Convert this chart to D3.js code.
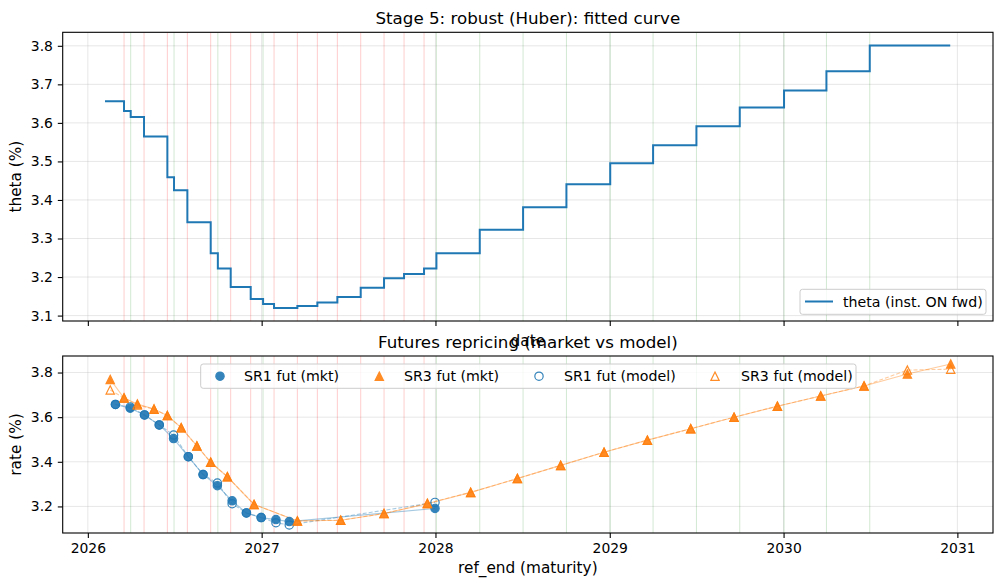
<!DOCTYPE html>
<html>
<head>
<meta charset="utf-8">
<script src="https://cdn.jsdelivr.net/npm/d3@7"></script>
<style>
  body { margin: 0; background: #fff; }
  text { font-family: "DejaVu Sans", sans-serif; fill: #000; }
</style>
</head>
<body>
<div id="chart"></div>
<script>
// ---- data ----
var thetaDates = ["2026-02-06", "2026-03-18", "2026-04-01", "2026-04-29", "2026-06-17", "2026-07-01",
  "2026-07-29", "2026-09-16", "2026-10-01", "2026-10-28", "2026-12-09", "2027-01-04", "2027-01-27",
  "2027-03-17", "2027-04-28", "2027-06-09", "2027-07-28", "2027-09-15", "2027-10-27", "2027-12-08",
  "2028-01-03", "2028-04-03", "2028-07-03", "2028-10-02", "2029-01-02", "2029-04-02", "2029-07-02",
  "2029-10-01", "2030-01-02", "2030-04-01", "2030-07-01", "2030-12-17"];
var thetaValues = [3.656, 3.631, 3.615, 3.565, 3.459, 3.425, 3.342, 3.262, 3.222, 3.174, 3.143, 3.130,
  3.120, 3.125, 3.134, 3.148, 3.172, 3.197, 3.208, 3.222, 3.262, 3.323, 3.381, 3.441, 3.495, 3.542,
  3.591, 3.640, 3.684, 3.734, 3.801, 3.801];

// meeting dates (red) and quarter starts (green)
var meetingDates = ["2026-03-18", "2026-04-29", "2026-06-17", "2026-07-29", "2026-09-16", "2026-10-28",
  "2026-12-09", "2027-01-27", "2027-03-17", "2027-04-28", "2027-06-09", "2027-07-28", "2027-09-15",
  "2027-10-27", "2027-12-08"];
var quarterDates = ["2026-04-01", "2026-07-01", "2026-10-01", "2027-01-04", "2028-01-03", "2028-04-03",
  "2028-07-03", "2028-10-02", "2029-01-02", "2029-04-02", "2029-07-02", "2029-10-01", "2030-01-02",
  "2030-04-01", "2030-07-01"];

var sr1Dates = ["2026-02-28", "2026-03-31", "2026-04-30", "2026-05-31", "2026-06-30", "2026-07-31",
  "2026-08-31", "2026-09-30", "2026-10-31", "2026-11-30", "2026-12-31", "2027-01-31", "2027-02-28",
  "2027-12-31"];
var sr1Mkt = [3.657, 3.640, 3.610, 3.565, 3.504, 3.423, 3.343, 3.293, 3.225, 3.171, 3.150, 3.141, 3.132, 3.191];
var sr1Model = [3.657, 3.645, 3.610, 3.565, 3.520, 3.423, 3.343, 3.305, 3.212, 3.171, 3.150, 3.127, 3.117, 3.218];

var sr3Dates = ["2026-02-17", "2026-03-18", "2026-04-15", "2026-05-20", "2026-06-17", "2026-07-16",
  "2026-08-18", "2026-09-16", "2026-10-21", "2026-12-16", "2027-03-17", "2027-06-16", "2027-09-15",
  "2027-12-15", "2028-03-15", "2028-06-21", "2028-09-20", "2028-12-20", "2029-03-21", "2029-06-20",
  "2029-09-19", "2029-12-19", "2030-03-20", "2030-06-19", "2030-09-18", "2030-12-18"];
var sr3Mkt = [3.769, 3.686, 3.659, 3.636, 3.607, 3.553, 3.471, 3.398, 3.333, 3.209, 3.135, 3.138, 3.168,
  3.212, 3.263, 3.325, 3.384, 3.443, 3.497, 3.548, 3.600, 3.649, 3.695, 3.740, 3.793, 3.838];
var sr3Model = [3.722, 3.686, 3.655, 3.636, 3.607, 3.553, 3.471, 3.398, 3.333, 3.209, 3.135, 3.138, 3.168,
  3.214, 3.263, 3.325, 3.384, 3.443, 3.497, 3.548, 3.600, 3.649, 3.695, 3.740, 3.811, 3.815];

var xTickLabels = ["2026", "2027", "2028", "2029", "2030", "2031"];
var yTicksTop = [3.1, 3.2, 3.3, 3.4, 3.5, 3.6, 3.7, 3.8];
var yTicksBottom = [3.2, 3.4, 3.6, 3.8];

// ---- setup ----
var W = 1002, H = 588;
var parse = d3.utcParse("%Y-%m-%d");
var blue = "#1f77b4", orange = "#ff7f0e";
var fs = 13.9, lfs = 15.3, tick = 4.9;

var svg = d3.select("#chart").append("svg")
  .attr("width", W).attr("height", H);

var left = 62.7, right = 993;
var topBox = {t: 32.3, b: 321};
var botBox = {t: 356, b: 533};

function pad(ext) {
  var r = ext[1] - ext[0];
  return [ext[0] - 0.05 * r, ext[1] + 0.05 * r];
}

var allDates = thetaDates.concat(sr1Dates, sr3Dates).map(parse);
var xe = d3.extent(allDates).map(Number);
var x = d3.scaleUtc().domain(pad(xe).map(function(v) { return new Date(v); })).range([left, right]);

var y1 = d3.scaleLinear().domain(pad(d3.extent(thetaValues))).range([topBox.b, topBox.t]);
var y2 = d3.scaleLinear()
  .domain(pad(d3.extent(sr1Mkt.concat(sr1Model, sr3Mkt, sr3Model))))
  .range([botBox.b, botBox.t]);

var xTicks = xTickLabels.map(function(s) { return parse(s + "-01-01"); });

svg.append("defs").selectAll("clipPath")
  .data([["c1", topBox], ["c2", botBox]])
  .enter().append("clipPath").attr("id", function(d) { return d[0]; })
  .append("rect")
  .attr("x", left).attr("y", function(d) { return d[1].t; })
  .attr("width", right - left).attr("height", function(d) { return d[1].b - d[1].t; });

function panel(box, y, yTicks, clip, showXLabels) {
  var g = svg.append("g");
  var inner = g.append("g").attr("clip-path", "url(#" + clip + ")");

  // grid
  inner.selectAll(".gy").data(yTicks).enter().append("line")
    .attr("x1", left).attr("x2", right)
    .attr("y1", function(d) { return y(d); }).attr("y2", function(d) { return y(d); })
    .attr("stroke", "#b0b0b0").attr("stroke-opacity", 0.3).attr("stroke-width", 1);
  inner.selectAll(".gx").data(xTicks).enter().append("line")
    .attr("x1", function(d) { return x(d); }).attr("x2", function(d) { return x(d); })
    .attr("y1", box.t).attr("y2", box.b)
    .attr("stroke", "#b0b0b0").attr("stroke-opacity", 0.3).attr("stroke-width", 1);

  // vertical markers
  inner.selectAll(".vr").data(meetingDates.map(parse)).enter().append("line")
    .attr("x1", function(d) { return x(d); }).attr("x2", function(d) { return x(d); })
    .attr("y1", box.t).attr("y2", box.b)
    .attr("stroke", "red").attr("stroke-opacity", 0.2).attr("stroke-width", 1);
  inner.selectAll(".vg").data(quarterDates.map(parse)).enter().append("line")
    .attr("x1", function(d) { return x(d); }).attr("x2", function(d) { return x(d); })
    .attr("y1", box.t).attr("y2", box.b)
    .attr("stroke", "green").attr("stroke-opacity", 0.18).attr("stroke-width", 1);

  // axes
  var ax = g.append("g").attr("transform", "translate(0," + box.b + ")")
    .call(d3.axisBottom(x).tickValues(xTicks).tickSize(tick).tickPadding(tick)
      .tickFormat(function(d, i) { return showXLabels ? xTickLabels[i] : ""; }));
  var ay = g.append("g").attr("transform", "translate(" + left + ",0)")
    .call(d3.axisLeft(y).tickValues(yTicks).tickSize(tick).tickPadding(tick)
      .tickFormat(d3.format(".1f")));
  [ax, ay].forEach(function(a) {
    a.select(".domain").remove();
    a.selectAll("line").attr("stroke", "#000").attr("stroke-width", 1.1);
    a.selectAll("text").attr("font-size", fs).attr("font-family", "DejaVu Sans").attr("fill", "#000");
  });

  g.append("rect").attr("class", "frame")
    .attr("x", left).attr("y", box.t).attr("width", right - left).attr("height", box.b - box.t)
    .attr("fill", "none").attr("stroke", "#000").attr("stroke-width", 1.1);
  return {g: g, inner: inner};
}

// ---- top panel: fitted theta ----
var p1 = panel(topBox, y1, yTicksTop, "c1", false);
var thetaPts = thetaDates.map(function(d, i) { return [parse(d), thetaValues[i]]; });
p1.inner.append("path")
  .datum(thetaPts)
  .attr("fill", "none").attr("stroke", blue).attr("stroke-width", 2)
  .attr("d", d3.line().curve(d3.curveStepAfter)
    .x(function(d) { return x(d[0]); }).y(function(d) { return y1(d[1]); }));

svg.append("text").attr("x", (left + right) / 2).attr("y", 24).attr("text-anchor", "middle")
  .attr("font-size", 16.7).text("Stage 5: robust (Huber): fitted curve");
svg.append("text").attr("x", (left + right) / 2).attr("y", 346).attr("text-anchor", "middle")
  .attr("font-size", lfs).text("date");
svg.append("text").attr("transform", "translate(16," + (topBox.t + topBox.b) / 2 + ") rotate(-90)")
  .attr("text-anchor", "middle").attr("dominant-baseline", "central")
  .attr("font-size", lfs).text("theta (%)");

// legend top
var lg1 = svg.append("g");
lg1.append("rect").attr("x", 800).attr("y", 289.3).attr("width", 186).attr("height", 25)
  .attr("rx", 2.5).attr("fill", "#fff").attr("fill-opacity", 0.8)
  .attr("stroke", "#ccc").attr("stroke-width", 1);
lg1.append("line").attr("x1", 805).attr("x2", 833).attr("y1", 301.5).attr("y2", 301.5)
  .attr("stroke", blue).attr("stroke-width", 2);
lg1.append("text").attr("x", 843).attr("y", 301.5).attr("dominant-baseline", "central")
  .attr("font-size", 14.2).text("theta (inst. ON fwd)");

// ---- bottom panel: futures repricing ----
var p2 = panel(botBox, y2, yTicksBottom, "c2", true);

function series(dates, vals) {
  return dates.map(function(d, i) { return [parse(d), vals[i]]; });
}
var line2 = d3.line().x(function(d) { return x(d[0]); }).y(function(d) { return y2(d[1]); });

var sets = [
  {pts: series(sr1Dates, sr1Mkt), color: blue, dash: null},
  {pts: series(sr3Dates, sr3Mkt), color: orange, dash: null},
  {pts: series(sr1Dates, sr1Model), color: blue, dash: "4,2"},
  {pts: series(sr3Dates, sr3Model), color: orange, dash: "4,2"}
];
sets.forEach(function(s) {
  p2.inner.append("path").datum(s.pts)
    .attr("fill", "none").attr("stroke", s.color).attr("stroke-opacity", 0.4)
    .attr("stroke-width", 1.1).attr("stroke-dasharray", s.dash)
    .attr("d", line2);
});

var ms = 8.33;
function tri(s) {
  return "M0," + (-s / 2) + "L" + (s / 2) + "," + (s / 2) + "L" + (-s / 2) + "," + (s / 2) + "Z";
}

// market markers
p2.inner.selectAll(".sr1m").data(sets[0].pts).enter().append("circle")
  .attr("cx", function(d) { return x(d[0]); }).attr("cy", function(d) { return y2(d[1]); })
  .attr("r", ms / 2).attr("fill", blue).attr("stroke", blue).attr("stroke-width", 1.2)
  .attr("opacity", 0.9);
p2.inner.selectAll(".sr3m").data(sets[1].pts).enter().append("path")
  .attr("transform", function(d) { return "translate(" + x(d[0]) + "," + y2(d[1]) + ")"; })
  .attr("d", tri(ms)).attr("fill", orange).attr("stroke", orange).attr("stroke-width", 1.2)
  .attr("opacity", 0.9);
// model markers
p2.inner.selectAll(".sr1o").data(sets[2].pts).enter().append("circle")
  .attr("cx", function(d) { return x(d[0]); }).attr("cy", function(d) { return y2(d[1]); })
  .attr("r", ms / 2).attr("fill", "none").attr("stroke", blue).attr("stroke-width", 1.2)
  .attr("opacity", 0.9);
p2.inner.selectAll(".sr3o").data(sets[3].pts).enter().append("path")
  .attr("transform", function(d) { return "translate(" + x(d[0]) + "," + y2(d[1]) + ")"; })
  .attr("d", tri(ms)).attr("fill", "none").attr("stroke", orange).attr("stroke-width", 1.2)
  .attr("opacity", 0.9);

svg.append("text").attr("x", (left + right) / 2).attr("y", 347.7).attr("text-anchor", "middle")
  .attr("font-size", 16.7).text("Futures repricing (market vs model)");
svg.append("text").attr("x", (left + right) / 2).attr("y", 573).attr("text-anchor", "middle")
  .attr("font-size", lfs).text("ref_end (maturity)");
svg.append("text").attr("transform", "translate(16," + (botBox.t + botBox.b) / 2 + ") rotate(-90)")
  .attr("text-anchor", "middle").attr("dominant-baseline", "central")
  .attr("font-size", lfs).text("rate (%)");

// legend bottom
var legendItems = [
  {label: "SR1 fut (mkt)", color: blue, shape: "circle", filled: true, mx: 220, tx: 244},
  {label: "SR3 fut (mkt)", color: orange, shape: "tri", filled: true, mx: 379.3, tx: 404},
  {label: "SR1 fut (model)", color: blue, shape: "circle", filled: false, mx: 539, tx: 564},
  {label: "SR3 fut (model)", color: orange, shape: "tri", filled: false, mx: 715, tx: 741}
];
var lg2 = svg.append("g");
var ly = 376.2;
lg2.append("rect").attr("x", 200.7).attr("y", 364).attr("width", 655.3).attr("height", 24.3)
  .attr("rx", 2.5).attr("fill", "#fff").attr("fill-opacity", 0.8)
  .attr("stroke", "#ccc").attr("stroke-width", 1);
legendItems.forEach(function(it) {
  if (it.shape === "circle") {
    lg2.append("circle").attr("cx", it.mx).attr("cy", ly).attr("r", ms / 2)
      .attr("fill", it.filled ? it.color : "none").attr("stroke", it.color)
      .attr("stroke-width", 1.2).attr("opacity", 0.9);
  } else {
    lg2.append("path").attr("transform", "translate(" + it.mx + "," + ly + ")").attr("d", tri(ms))
      .attr("fill", it.filled ? it.color : "none").attr("stroke", it.color)
      .attr("stroke-width", 1.2).attr("opacity", 0.9);
  }
  lg2.append("text").attr("x", it.tx).attr("y", ly).attr("dominant-baseline", "central")
    .attr("font-size", 14.2).text(it.label);
});
</script>
</body>
</html>
